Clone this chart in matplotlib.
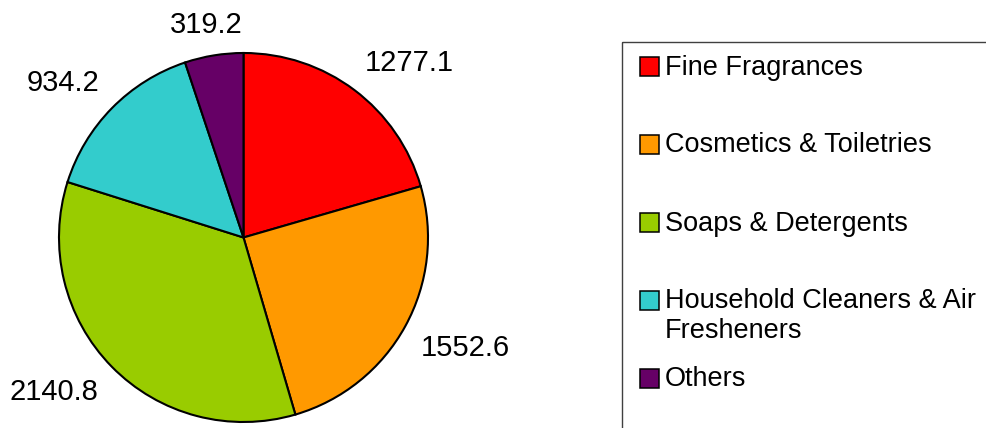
import numpy as np
import matplotlib.pyplot as plt
from matplotlib.patches import Rectangle

plt.rcParams['font.family'] = ['Liberation Sans', 'DejaVu Sans']

categories = ["Fine Fragrances", "Cosmetics & Toiletries", "Soaps & Detergents",
              "Household Cleaners & Air\nFresheners", "Others"]
values = [1277.1, 1552.6, 2140.8, 934.2, 319.2]
colors = ["#FF0000", "#FF9900", "#99CC00", "#33CCCC", "#660066"]

W, H = 987, 428
fs_leg = 19.5
fs_lab = 21
fig = plt.figure(figsize=(W / 100, H / 100), dpi=100)

# pie axes, sized in pixels
cx, cy, r = 243.5, 237.5, 184.5
ax = fig.add_axes([(cx - r) / W, (H - cy - r) / H, 2 * r / W, 2 * r / H])
wedges, _ = ax.pie(values, colors=colors, startangle=90, counterclock=False,
                   wedgeprops=dict(edgecolor='black', linewidth=1.5))
ax.set_xlim(-1, 1)
ax.set_ylim(-1, 1)
ax.axis('off')

# value labels: box corner anchored just outside the slice, excel style
fig.canvas.draw()
renderer = fig.canvas.get_renderer()
cap_half = 0.716 * fs_lab * 100 / 72 / 2
for w, v in zip(wedges, values):
    ang = np.deg2rad((w.theta1 + w.theta2) / 2)
    t = ax.text(0, 0, f"{v:.1f}", fontsize=fs_lab, ha='center', va='baseline')
    bw = t.get_window_extent(renderer).width
    ax_px = (r + 18) * np.cos(ang)
    ay_px = (r + 18) * np.sin(ang)
    c = np.cos(ang)
    sx = 0 if abs(c) < 0.2 else np.sign(c)
    x_px = ax_px + sx * bw / 2
    if sx == 0:
        x_px -= 5
    base_px = ay_px + 5 if np.sin(ang) > 0 else ay_px - 2 * cap_half
    t.set_position((x_px / r, base_px / r))

# legend drawn in pixel coords
lax = fig.add_axes([0, 0, 1, 1])
lax.set_xlim(0, W)
lax.set_ylim(H, 0)
lax.axis('off')
lax.patch.set_visible(False)
lax.add_patch(Rectangle((622, 42), 420, 420, fill=False, edgecolor='#404040', lw=1))
for i, (lab, col) in enumerate(zip(categories, colors)):
    yc = 66 + 78 * i
    lax.add_patch(Rectangle((640, yc - 9.5), 19, 19, facecolor=col, edgecolor='black', lw=1.1))
    for j, line in enumerate(lab.split('\n')):
        lax.text(665, yc + 8.5 + 30 * j, line, fontsize=fs_leg, va='baseline', ha='left')

fig.savefig('out.png', dpi=100)
